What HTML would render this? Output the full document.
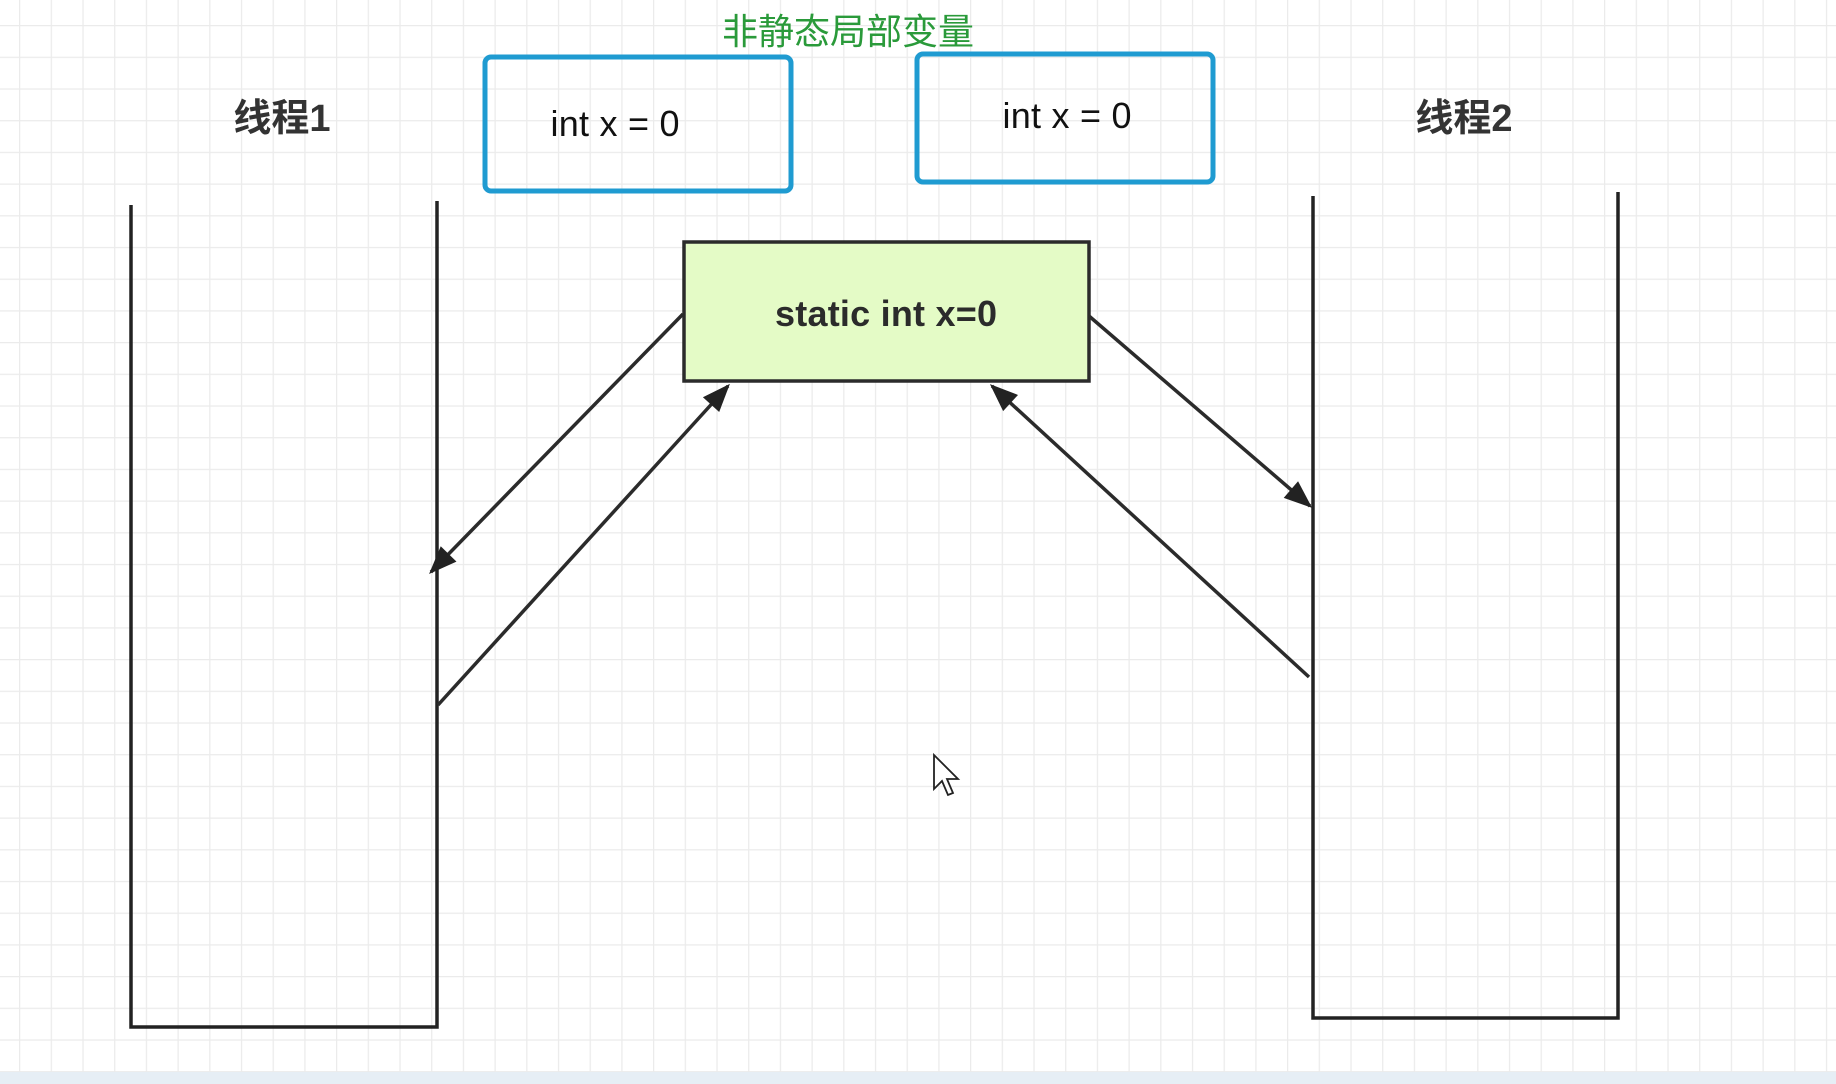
<!DOCTYPE html>
<html><head><meta charset="utf-8"><style>
html,body{margin:0;padding:0;background:#fff;width:1836px;height:1084px;overflow:hidden}
svg{display:block}
</style></head><body>
<svg id="s" width="1836" height="1084" viewBox="0 0 1836 1084" xmlns="http://www.w3.org/2000/svg">
<defs>
<pattern id="g" x="19" y="25" width="31.7" height="31.7" patternUnits="userSpaceOnUse">
<path d="M0 0H31.7M0 0V31.7" stroke="#ebebeb" stroke-width="2.5" fill="none"/>
</pattern>
<marker id="ah" viewBox="0 0 10 10" refX="9" refY="5" markerWidth="28" markerHeight="22" markerUnits="userSpaceOnUse" orient="auto" preserveAspectRatio="none" style="overflow:visible">
<path d="M0 0L10 5L0 10z" fill="#222"/>
</marker>
</defs>
<rect width="1836" height="1084" fill="url(#g)"/>
<rect x="0" y="1072" width="1836" height="12" fill="#e6eef5"/>

<text x="848" y="44" text-anchor="middle" font-family="'Liberation Sans','Noto Sans CJK SC',sans-serif" font-size="36" fill="#2a9a3a">非静态局部变量</text>

<text x="282" y="131" text-anchor="middle" font-family="'Liberation Sans','Noto Sans CJK SC',sans-serif" font-size="38" font-weight="bold" fill="#333">线程1</text>
<text x="1464" y="131" text-anchor="middle" font-family="'Liberation Sans','Noto Sans CJK SC',sans-serif" font-size="38" font-weight="bold" fill="#333">线程2</text>

<rect x="485" y="57" width="306" height="134" rx="6" fill="none" stroke="#1f9bd1" stroke-width="5"/>
<text x="615" y="136" text-anchor="middle" font-family="'Liberation Sans',sans-serif" font-size="36" fill="#111" textLength="129">int x = 0</text>
<rect x="917" y="54" width="296" height="128" rx="6" fill="none" stroke="#1f9bd1" stroke-width="5"/>
<text x="1067" y="128" text-anchor="middle" font-family="'Liberation Sans',sans-serif" font-size="36" fill="#111" textLength="129">int x = 0</text>

<polyline points="131,205 131,1027 437,1027 437,201" fill="none" stroke="#222" stroke-width="3.5"/>
<polyline points="1313,196 1313,1018 1618,1018 1618,192" fill="none" stroke="#222" stroke-width="3.5"/>

<rect x="684" y="242" width="405" height="139" fill="#e4fbc6" stroke="#2b2b2b" stroke-width="3.5"/>
<text x="886" y="326" text-anchor="middle" font-family="'Liberation Sans',sans-serif" font-size="36" font-weight="bold" fill="#2b2b2b" textLength="222">static int x=0</text>

<g stroke="#2b2b2b" stroke-width="3.5" fill="none">
<line x1="683" y1="314" x2="431" y2="572" marker-end="url(#ah)"/>
<line x1="438" y1="705" x2="728" y2="386" marker-end="url(#ah)"/>
<line x1="1089" y1="316" x2="1310" y2="506" marker-end="url(#ah)"/>
<line x1="1309" y1="677" x2="992" y2="386" marker-end="url(#ah)"/>
</g>

<path d="M934 755 L934 789 L942 781 L948 795 L953 793 L947 779 L958 779 Z" fill="#fff" stroke="#222" stroke-width="1.8"/>
</svg>
</body></html>
